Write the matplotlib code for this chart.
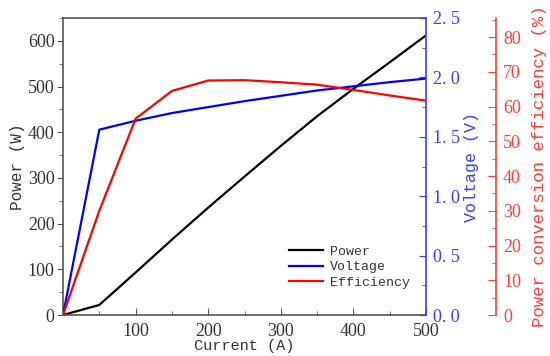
import matplotlib
matplotlib.use("Agg")
import matplotlib.pyplot as plt
from matplotlib.ticker import MultipleLocator, FixedLocator, FuncFormatter

current = [0, 50, 100, 150, 200, 250, 300, 350, 400, 450, 500]
power = [0, 22, 93, 165, 235, 303, 370, 435, 495, 553, 612]
voltage = [0, 1.56, 1.635, 1.70, 1.75, 1.80, 1.845, 1.89, 1.925, 1.96, 1.99]
efficiency = [0, 30, 56.5, 64.5, 67.5, 67.6, 67.0, 66.3, 64.8, 63.2, 61.7]

x_ticks = [100, 200, 300, 400, 500]
p_ticks = [0, 100, 200, 300, 400, 500, 600]
v_ticks = [0.0, 0.5, 1.0, 1.5, 2.0, 2.5]
e_ticks = [0, 10, 20, 30, 40, 50, 60, 70, 80]

serif = "Liberation Serif"
mono = "Liberation Mono"
gray = "#333333"
spine_gray = "#555555"
blue_ax = "#3c3cff"
red_ax = "#ff3c3c"

fig = plt.figure(figsize=(5.5, 3.56), dpi=100)
ax = fig.add_axes([63/550, 1-315/356, (426-63)/550, (315-18)/356])
ax2 = ax.twinx()
ax3 = ax.twinx()
ax3.spines["right"].set_position(("axes", (496-63)/363))

l1, = ax.plot(current, power, color="black", lw=1.6, label="Power")
l2, = ax2.plot(current, voltage, color="blue", lw=1.6, label="Voltage")
l3, = ax3.plot(current, efficiency, color="red", lw=1.6, label="Efficiency")

ax.set_xlim(0, 500)
ax.set_ylim(0, 650)
ax2.set_ylim(0, 2.5)
ax3.set_ylim(0, 85.5)

# left / bottom
ax.xaxis.set_major_locator(FixedLocator(x_ticks))
ax.xaxis.set_minor_locator(MultipleLocator(50))
ax.yaxis.set_major_locator(FixedLocator(p_ticks))
ax.yaxis.set_minor_locator(MultipleLocator(50))
ax.tick_params(axis="x", which="both", direction="in", colors=spine_gray, labelcolor=gray, pad=6)
ax.tick_params(axis="x", which="major", length=5)
ax.tick_params(axis="x", which="minor", length=3)
ax.tick_params(axis="y", which="both", direction="out", colors=spine_gray, labelcolor=gray, pad=2)
ax.tick_params(axis="y", which="major", length=4)
ax.tick_params(axis="y", which="minor", length=3)
for lab in ax.get_xticklabels() + ax.get_yticklabels():
    lab.set_fontfamily(serif)
    lab.set_fontsize(13)
for s in ["left", "bottom", "top"]:
    ax.spines[s].set_color(spine_gray)
    ax.spines[s].set_linewidth(1.2)
ax.spines["right"].set_visible(False)

ax.set_xlabel("Current (A)", fontfamily=mono, fontsize=11, color=gray, labelpad=-1)
ax.set_ylabel("Power (W)", fontfamily=mono, fontsize=11.5, color=gray, labelpad=2)

# voltage axis
ax2.yaxis.set_major_locator(FixedLocator(v_ticks))
ax2.yaxis.set_minor_locator(MultipleLocator(0.25))
ax2.yaxis.set_major_formatter(FuncFormatter(lambda v, p: f"{v:.1f}".replace(".", ". ")))
ax2.tick_params(axis="y", which="both", direction="in", colors=blue_ax, labelcolor=blue_ax, pad=5)
ax2.tick_params(axis="y", which="major", length=5)
ax2.tick_params(axis="y", which="minor", length=3)
for lab in ax2.get_yticklabels():
    lab.set_fontfamily(serif)
    lab.set_fontsize(13)
ax2.spines["right"].set_color(blue_ax)
ax2.spines["right"].set_linewidth(1.2)
for s in ["left", "bottom", "top"]:
    ax2.spines[s].set_visible(False)
ax2.set_ylabel("Voltage (V)", fontfamily=mono, fontsize=12, color=blue_ax, labelpad=3)

# efficiency axis
ax3.yaxis.set_major_locator(FixedLocator(e_ticks))
ax3.yaxis.set_minor_locator(MultipleLocator(5))
ax3.tick_params(axis="y", which="both", direction="in", colors=red_ax, labelcolor=red_ax, pad=5)
ax3.tick_params(axis="y", which="major", length=6)
ax3.tick_params(axis="y", which="minor", length=3)
for lab in ax3.get_yticklabels():
    lab.set_fontfamily(serif)
    lab.set_fontsize(13)
ax3.spines["right"].set_color(red_ax)
ax3.spines["right"].set_linewidth(1.2)
for s in ["left", "bottom", "top"]:
    ax3.spines[s].set_visible(False)
ax3.set_ylabel("Power conversion efficiency (%)", fontfamily=mono, fontsize=12.5, color=red_ax, labelpad=8)

leg = ax.legend(handles=[l1, l2, l3], loc="lower right", bbox_to_anchor=(0.97, 0.07),
                frameon=False, prop={"family": mono, "size": 9.5},
                handlelength=2.6, handletextpad=0.5, labelspacing=0.25, borderaxespad=0)
for t in leg.get_texts():
    t.set_color(gray)

fig.savefig("out.png", dpi=100)
